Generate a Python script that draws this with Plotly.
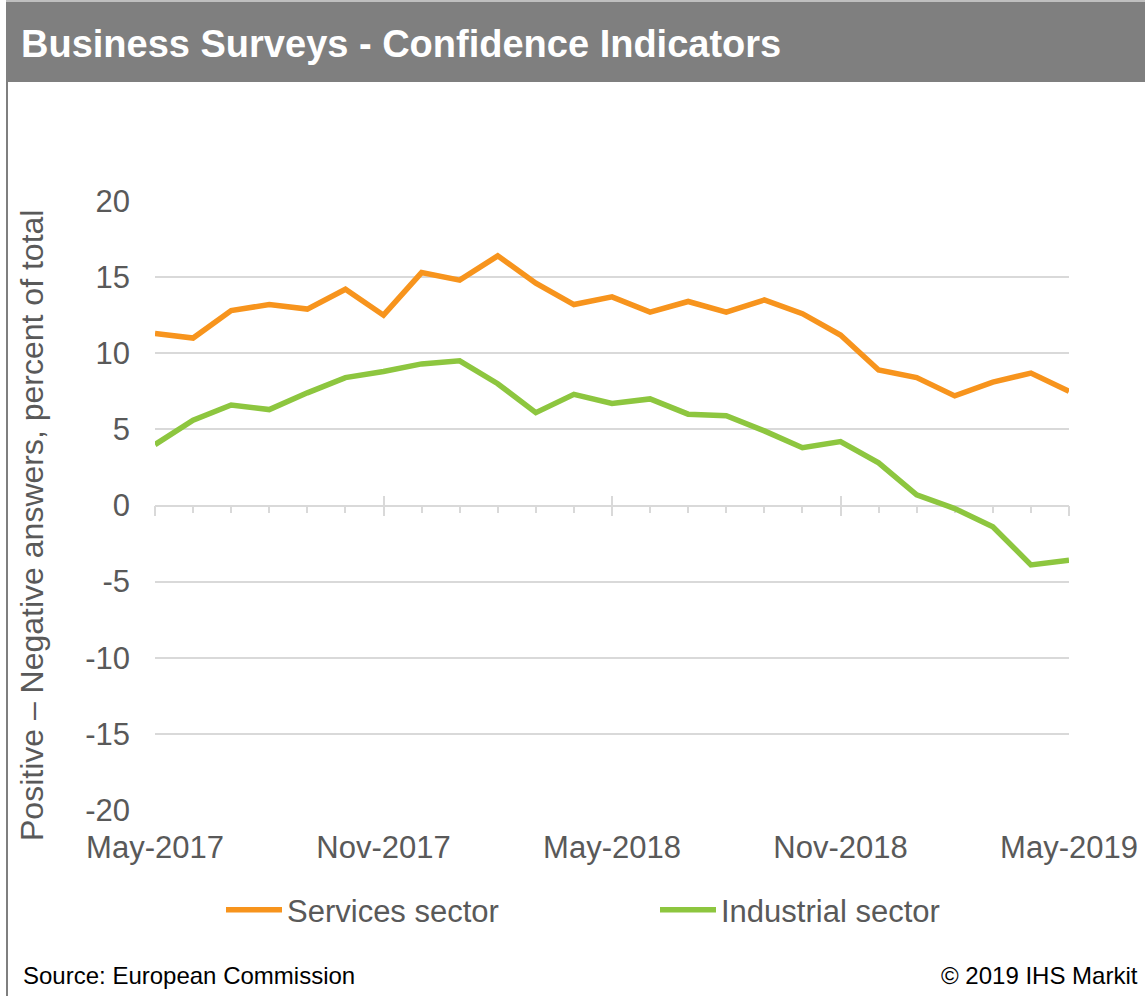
import pandas as pd
import plotly.graph_objects as go

# ---- data ----
months = list(pd.date_range("2017-05-01", periods=25, freq="MS").strftime("%b-%Y"))
services = [11.3, 11.0, 12.8, 13.2, 12.9, 14.2, 12.5, 15.3, 14.8, 16.4, 14.6, 13.2, 13.7,
            12.7, 13.4, 12.7, 13.5, 12.6, 11.2, 8.9, 8.4, 7.2, 8.1, 8.7, 7.5]
industrial = [4.0, 5.6, 6.6, 6.3, 7.4, 8.4, 8.8, 9.3, 9.5, 8.0, 6.1, 7.3, 6.7,
              7.0, 6.0, 5.9, 4.9, 3.8, 4.2, 2.8, 0.7, -0.2, -1.4, -3.9, -3.6]
tick_labels = ["May-2017", "Nov-2017", "May-2018", "Nov-2018", "May-2019"]
y_ticks = [-20, -15, -10, -5, 0, 5, 10, 15, 20]
y_tick_text = [str(v) for v in y_ticks]
series_names = ["Services sector", "Industrial sector"]
colors = ["#F7941D", "#8DC63F"]

W, H = 1145, 996
L, R, T, B = 155, 1069, 201, 810
FONT = "Arial, Liberation Sans, sans-serif"
GRAY = "#595959"
GRID = "#D9D9D9"


def px(xp):
    return (xp - L) / (R - L)


def py(yp):
    return (B - yp) / (B - T)


fig = go.Figure()
legend_ids = ["legend", "legend2"]
for name, vals, col, lg in zip(series_names, [services, industrial], colors, legend_ids):
    fig.add_trace(go.Scatter(x=months, y=vals, name=name, mode="lines", legend=lg,
                             line=dict(color=col, width=5.5)))
# helper invisible traces to carry the zero-axis tick overlays
fig.add_trace(go.Scatter(x=[], y=[], xaxis="x2", showlegend=False, hoverinfo="skip"))
fig.add_trace(go.Scatter(x=[], y=[], xaxis="x3", showlegend=False, hoverinfo="skip"))

leg_common = dict(orientation="h", yanchor="middle", xanchor="left",
                  font=dict(size=31, color=GRAY, family=FONT), itemwidth=56,
                  bgcolor="rgba(0,0,0,0)")

fig.update_layout(
    width=W, height=H,
    margin=dict(l=L, r=W - R, t=T, b=H - B, autoexpand=False),
    paper_bgcolor="white", plot_bgcolor="white",
    font=dict(family=FONT, color=GRAY),
    showlegend=True,
    legend=dict(x=px(221), y=py(910), **leg_common),
    legend2=dict(x=px(655), y=py(910), **leg_common),
    xaxis=dict(type="category", range=[0, len(months) - 1], tickvals=tick_labels,
               ticktext=tick_labels, showgrid=False, showline=False, zeroline=False,
               ticks="", tickfont=dict(size=31, color=GRAY), ticklabelstandoff=16),
    xaxis2=dict(overlaying="x", anchor="free", position=0.5, type="linear",
                range=[0, len(months) - 1], showgrid=False, zeroline=False,
                showline=True, linecolor=GRID, linewidth=1.5,
                tickmode="linear", tick0=0, dtick=6, ticks="outside", ticklen=9.5,
                tickwidth=1.5, tickcolor=GRID, showticklabels=False,
                minor=dict(ticks="outside", dtick=1, tick0=0, ticklen=7,
                           tickwidth=1.5, tickcolor=GRID),
                layer="below traces"),
    xaxis3=dict(overlaying="x", anchor="free", position=0.5, type="linear",
                range=[0, len(months) - 1], showgrid=False, zeroline=False,
                showline=False, tickmode="linear", tick0=0, dtick=6, ticks="inside",
                ticklen=9.5, tickwidth=1.5, tickcolor=GRID, showticklabels=False,
                layer="below traces"),
    yaxis=dict(range=[-20, 20], tickmode="array", tickvals=y_ticks, ticktext=y_tick_text,
               showgrid=True, gridcolor=GRID,
               gridwidth=1.5, zeroline=False, showline=False, ticks="",
               tickfont=dict(size=31, color=GRAY), ticklabelstandoff=24),
)

shapes = [
    dict(type="rect", xref="paper", yref="paper", x0=px(6), x1=px(1160), y0=py(0),
         y1=py(82), fillcolor="#7F7F7F", line=dict(width=0), layer="below"),
    dict(type="line", xref="paper", yref="paper", x0=px(6), x1=px(1160), y0=py(1),
         y1=py(1), line=dict(color="#BFBFBF", width=2), layer="below"),
    dict(type="line", xref="paper", yref="paper", x0=px(7), x1=px(7), y0=py(82),
         y1=py(1000), line=dict(color="#7F7F7F", width=2), layer="below"),
]
fig.update_layout(shapes=shapes)

annotations = [
    dict(text="<b>Business Surveys - Confidence Indicators</b>", xref="paper",
         yref="paper", x=px(19), y=py(44), xanchor="left", yanchor="middle",
         showarrow=False, font=dict(size=38, color="white", family=FONT)),
    dict(text="Positive – Negative answers, percent of total", xref="paper", yref="paper",
         x=px(32), y=py(526), xanchor="center", yanchor="middle", textangle=-90,
         showarrow=False, font=dict(size=32, color=GRAY, family=FONT)),
    dict(text="Source: European Commission", xref="paper", yref="paper",
         x=px(21), y=py(975), xanchor="left", yanchor="middle", showarrow=False,
         font=dict(size=24, color="#000000", family=FONT)),
    dict(text="© 2019 IHS Markit", xref="paper", yref="paper",
         x=px(1140), y=py(975), xanchor="right", yanchor="middle", showarrow=False,
         font=dict(size=24, color="#000000", family=FONT)),
]
fig.update_layout(annotations=annotations)

fig.write_html("out.html", config={"displayModeBar": False},
               post_script="document.body.style.margin='0px';")
